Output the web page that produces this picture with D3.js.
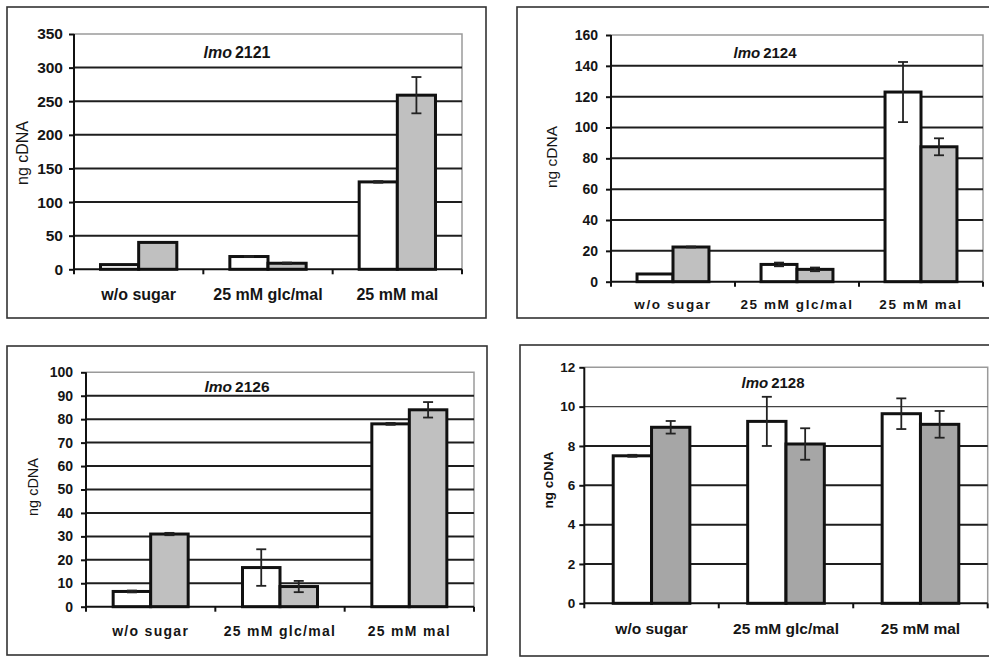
<!DOCTYPE html>
<html><head><meta charset="utf-8">
<script src="https://cdn.jsdelivr.net/npm/d3@7"></script>
<style>
html,body{margin:0;padding:0;background:#fff;}
svg{display:block;}
text{font-family:"Liberation Sans",Arial,Helvetica,sans-serif;fill:#151515;}
</style></head>
<body>
<svg id="chart" width="989" height="657"></svg>
<script>
// ---------- data ----------
const categories = ["w/o sugar", "25 mM glc/mal", "25 mM mal"];
const geneNames = ["2121", "2124", "2126", "2128"];
const yLabel = "ng cDNA";

const lmo2121White = [7, 19, 130];
const lmo2121WhiteErr = [0, 0.8, 1.2];
const lmo2121Gray = [40, 9, 259];
const lmo2121GrayErr = [0, 1, 27];

const lmo2124White = [5, 11.2, 123];
const lmo2124WhiteErr = [0, 1.2, 19.5];
const lmo2124Gray = [22.5, 8, 87.5];
const lmo2124GrayErr = [0.3, 1.2, 5.5];

const lmo2126White = [6.5, 16.7, 78];
const lmo2126WhiteErr = [0.4, 7.8, 0.4];
const lmo2126Gray = [31, 8.6, 84];
const lmo2126GrayErr = [0.5, 2.4, 3.3];

const lmo2128White = [7.5, 9.25, 9.64];
const lmo2128WhiteErr = [0.05, 1.25, 0.78];
const lmo2128Gray = [8.95, 8.1, 9.1];
const lmo2128GrayErr = [0.32, 0.8, 0.68];

const ticks2121 = [0, 50, 100, 150, 200, 250, 300, 350];
const ticks2124 = [0, 20, 40, 60, 80, 100, 120, 140, 160];
const ticks2126 = [0, 10, 20, 30, 40, 50, 60, 70, 80, 90, 100];
const ticks2128 = [0, 2, 4, 6, 8, 10, 12];

// ---------- layout ----------
const panels = [
  {name: geneNames[0], white: lmo2121White, whiteErr: lmo2121WhiteErr, gray: lmo2121Gray, grayErr: lmo2121GrayErr, ticks: ticks2121,
   box: [7, 7, 486, 318], plot: [74, 34, 462, 269.3], pad: 0.41, grayFill: "#c0c0c0", thinGrid: [],
   tickFont: 15.5, xFont: 16, xSpacing: 0, yFont: 16, yBold: false, titleFont: 16, titleX: 237, titleY: 58,
   xLabelY: 300, yLabelX: 22, yLabelY: 153, tickGap: 11},
  {name: geneNames[1], white: lmo2124White, whiteErr: lmo2124WhiteErr, gray: lmo2124Gray, grayErr: lmo2124GrayErr, ticks: ticks2124,
   box: [517, 7, 1000, 318], plot: [611, 35, 983, 281.7], pad: 0.42, grayFill: "#c0c0c0", thinGrid: [],
   tickFont: 14, xFont: 13.5, xSpacing: 1.6, yFont: 15.5, yBold: false, titleFont: 15, titleX: 765, titleY: 58,
   xLabelY: 309, yLabelX: 552, yLabelY: 157, tickGap: 13},
  {name: geneNames[2], white: lmo2126White, whiteErr: lmo2126WhiteErr, gray: lmo2126Gray, grayErr: lmo2126GrayErr, ticks: ticks2126,
   box: [7, 346, 487, 655], plot: [86, 372.3, 474, 606.7], pad: 0.42, grayFill: "#c0c0c0", thinGrid: [],
   tickFont: 14, xFont: 14, xSpacing: 1.3, yFont: 14.5, yBold: false, titleFont: 15.5, titleX: 237, titleY: 392,
   xLabelY: 636, yLabelX: 33, yLabelY: 487, tickGap: 13},
  {name: geneNames[3], white: lmo2128White, whiteErr: lmo2128WhiteErr, gray: lmo2128Gray, grayErr: lmo2128GrayErr, ticks: ticks2128,
   box: [520, 345, 1000, 656], plot: [584.3, 367.3, 987.7, 603.3], pad: 0.43, grayFill: "#a6a6a6", thinGrid: [10],
   tickFont: 13.5, xFont: 15.5, xSpacing: 0, yFont: 13.5, yBold: true, titleFont: 15, titleX: 773, titleY: 388,
   xLabelY: 634, yLabelX: 548, yLabelY: 480, tickGap: 9}
];

const svg = d3.select("#chart");

panels.forEach(p => {
  const g = svg.append("g");
  const [bx0, by0, bx1, by1] = p.box;
  const [px0, py0, px1, py1] = p.plot;

  // outer frame
  g.append("rect").attr("x", bx0).attr("y", by0).attr("width", bx1 - bx0).attr("height", by1 - by0)
    .attr("fill", "#fff").attr("stroke", "#333").attr("stroke-width", 1.6);

  const y = d3.scaleLinear().domain([0, d3.max(p.ticks)]).range([py1, py0]);
  const x = d3.scaleBand().domain(categories).range([px0, px1]).paddingInner(p.pad).paddingOuter(p.pad / 2);
  const xs = d3.scaleBand().domain(["white", "gray"]).range([0, x.bandwidth()]);

  // plot area border (top & right, light gray)
  g.append("path").attr("d", `M${px0},${y(d3.max(p.ticks))}H${px1}V${py1}`)
    .attr("fill", "none").attr("stroke", "#9a9a9a").attr("stroke-width", 1.5);

  // gridlines
  g.selectAll(".grid").data(p.ticks.filter(t => t > 0 && t < d3.max(p.ticks))).join("line")
    .attr("x1", px0).attr("x2", px1).attr("y1", d => y(d)).attr("y2", d => y(d))
    .attr("stroke", d => p.thinGrid.includes(d) ? "#444" : "#1e1e1e")
    .attr("stroke-width", d => p.thinGrid.includes(d) ? 1.2 : 2);

  // bars
  const rows = [];
  categories.forEach((c, i) => {
    rows.push({cat: c, key: "white", v: p.white[i], e: p.whiteErr[i], fill: "#fff"});
    rows.push({cat: c, key: "gray", v: p.gray[i], e: p.grayErr[i], fill: p.grayFill});
  });
  g.selectAll(".bar").data(rows).join("rect")
    .attr("x", d => x(d.cat) + xs(d.key))
    .attr("y", d => y(d.v))
    .attr("width", xs.bandwidth())
    .attr("height", d => y(0) - y(d.v))
    .attr("fill", d => d.fill).attr("stroke", "#111").attr("stroke-width", 3);

  // error bars
  const eb = rows.filter(d => d.e > 0);
  const cx = d => x(d.cat) + xs(d.key) + xs.bandwidth() / 2;
  g.selectAll(".ev").data(eb).join("line")
    .attr("x1", cx).attr("x2", cx).attr("y1", d => y(d.v + d.e)).attr("y2", d => y(d.v - d.e))
    .attr("stroke", "#222").attr("stroke-width", 1.8);
  ["+", "-"].forEach(s => {
    g.selectAll(".cap" + (s === "+" ? "t" : "b")).data(eb).join("line")
      .attr("x1", d => cx(d) - 5).attr("x2", d => cx(d) + 5)
      .attr("y1", d => y(s === "+" ? d.v + d.e : d.v - d.e)).attr("y2", d => y(s === "+" ? d.v + d.e : d.v - d.e))
      .attr("stroke", "#222").attr("stroke-width", 1.8);
  });

  // y axis
  const yAxis = g.append("g").attr("transform", `translate(${px0},0)`)
    .call(d3.axisLeft(y).tickValues(p.ticks).tickSize(5).tickPadding(p.tickGap - 5).tickFormat(d3.format("d")));
  yAxis.select(".domain").attr("stroke", "#111").attr("stroke-width", 2).attr("d", `M0,${py0}V${py1}`);
  yAxis.selectAll(".tick line").attr("stroke", "#111").attr("stroke-width", 2);
  yAxis.selectAll(".tick text").attr("font-size", p.tickFont).attr("font-weight", "bold")
    .attr("font-family", '"Liberation Sans",Arial,sans-serif').attr("fill", "#151515");

  // x axis
  g.append("line").attr("x1", px0).attr("x2", px1).attr("y1", y(0)).attr("y2", y(0))
    .attr("stroke", "#111").attr("stroke-width", 2);
  const bounds = [px0].concat(categories.map(c => x(c) + x.bandwidth() + x.step() * p.pad / 2));
  g.selectAll(".xt").data(bounds).join("line")
    .attr("x1", d => d).attr("x2", d => d).attr("y1", y(0)).attr("y2", y(0) + 5)
    .attr("stroke", "#111").attr("stroke-width", 2);
  g.selectAll(".xl").data(categories).join("text")
    .attr("x", d => x(d) + x.bandwidth() / 2).attr("y", p.xLabelY)
    .attr("text-anchor", "middle").attr("font-size", p.xFont).attr("font-weight", "bold")
    .attr("letter-spacing", p.xSpacing)
    .text(d => d);

  // y label
  g.append("text").attr("transform", `translate(${p.yLabelX},${p.yLabelY}) rotate(-90)`)
    .attr("text-anchor", "middle").attr("dy", "0.35em")
    .attr("font-size", p.yFont).attr("font-weight", p.yBold ? "bold" : "normal").text(yLabel);

  // title
  const t = g.append("text").attr("x", p.titleX).attr("y", p.titleY).attr("text-anchor", "middle")
    .attr("font-size", p.titleFont).attr("font-weight", "bold");
  t.append("tspan").attr("font-style", "italic").text("lmo");
  t.append("tspan").attr("dx", 3).text(p.name);
});
</script>
</body></html>
